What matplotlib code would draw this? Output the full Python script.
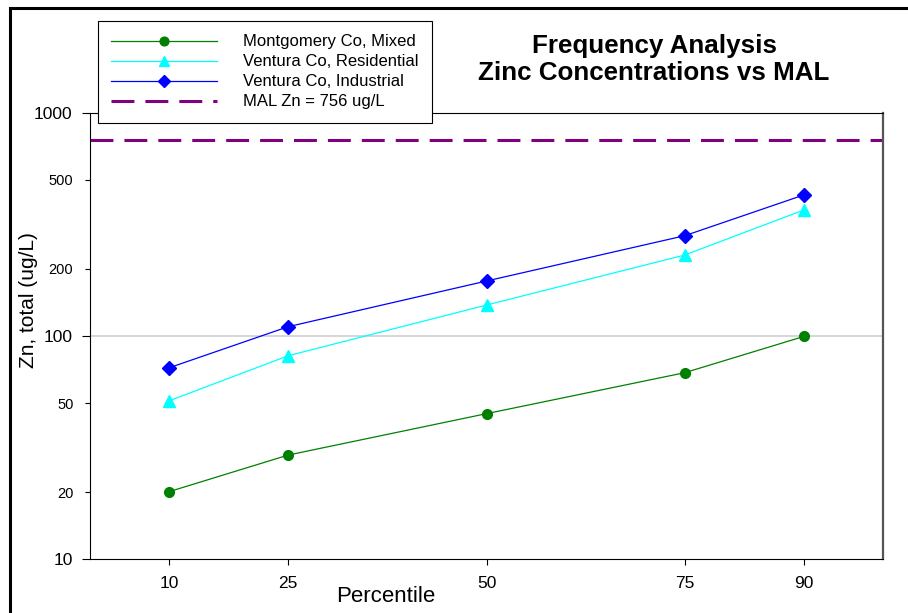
import matplotlib
matplotlib.use('Agg')
from matplotlib import pyplot as plt
from matplotlib.lines import Line2D
from matplotlib.patches import Rectangle
from matplotlib.ticker import FixedLocator

plt.rcParams['font.family'] = ['Liberation Sans', 'DejaVu Sans']

# data
percentiles = [10, 25, 50, 75, 90]
montgomery_mixed = [20.1, 29.3, 44.9, 68.5, 99.5]
ventura_residential = [51.3, 81.6, 137.6, 230.5, 366.6]
ventura_industrial = [72.1, 110.1, 176.3, 281.3, 428.0]
mal_zn = 756

series_labels = ['Montgomery Co, Mixed', 'Ventura Co, Residential', 'Ventura Co, Industrial']
mal_label = 'MAL Zn = 756 ug/L'

W, H = 908, 613
fig = plt.figure(figsize=(W / 100, H / 100), dpi=100)
ax = fig.add_axes([90 / W, 1 - 559.3 / H, (883 - 90) / W, (559.3 - 112.7) / H])

# outer frame round the whole graphic
fig.patches.append(Rectangle((10 / W, -0.1), 1.2, 1.1 - 8.5 / H, transform=fig.transFigure,
                             fill=False, edgecolor='black', linewidth=2.2, zorder=0))

ax.axhline(100, color='#cccccc', linewidth=1.1, zorder=1)

h1, = ax.plot(percentiles, montgomery_mixed, color='#008000', lw=0.9, marker='o', ms=7, zorder=3)
h2, = ax.plot(percentiles, ventura_residential, color='#00ffff', lw=0.9, marker='^', ms=8.6, zorder=3)
h3, = ax.plot(percentiles, ventura_industrial, color='#0000ff', lw=0.9, marker='D', ms=6.8, zorder=3)
ax.axhline(mal_zn, color='#800080', lw=2.2, dashes=(7.5, 3.6), zorder=2)

ax.set_yscale('log')
ax.set_xlim(0, 100)
ax.set_ylim(10, 1000)

ax.set_xticks(percentiles)
ax.set_xticklabels([str(p) for p in percentiles], fontsize=12.5)
ax.tick_params(axis='x', direction='out', length=4, width=0.8, pad=8)

ax.yaxis.set_major_locator(FixedLocator([10, 100, 1000]))
ax.yaxis.set_minor_locator(FixedLocator([20, 50, 200, 500]))
ax.set_yticklabels(['10', '100', '1000'], fontsize=12.5)
ax.set_yticklabels(['20', '50', '200', '500'], minor=True, fontsize=10.5)
ax.tick_params(axis='y', which='major', direction='out', length=6, width=0.8, pad=6.5)
ax.tick_params(axis='y', which='minor', direction='out', length=3.6, width=0.8, pad=8.4)

for side in ['left', 'bottom', 'top']:
    ax.spines[side].set_linewidth(0.8)
    ax.spines[side].set_color('black')
ax.spines['right'].set_linewidth(1.6)
ax.spines['right'].set_color('#555555')

ax.set_xlabel('Percentile', fontsize=16)
ax.xaxis.set_label_coords((385.7 - 90) / 793, (559.3 - 602.3) / 446.6)
ax.xaxis.label.set_va('baseline')
ax.set_ylabel('Zn, total (ug/L)', fontsize=15)
ax.yaxis.set_label_coords((28 - 90) / 793, (559.3 - 300) / 446.6)
ax.yaxis.label.set_va('center')

fig.text(654 / W, 1 - 53.3 / H, 'Frequency Analysis', fontsize=18.7, fontweight='bold',
         ha='center', va='baseline')
fig.text(654 / W, 1 - 80 / H, 'Zinc Concentrations vs MAL', fontsize=18.7, fontweight='bold',
         ha='center', va='baseline')

mal_handle = Line2D([], [], color='#800080', lw=2.2, dashes=(7.5, 3.6))
leg = ax.legend([h1, h2, h3, mal_handle], series_labels + [mal_label],
                loc='upper left', bbox_to_anchor=(98 / W, 1 - 21 / H), bbox_transform=fig.transFigure,
                borderaxespad=0, fontsize=12, numpoints=1, handlelength=6.35, handletextpad=1.55,
                borderpad=0.8, labelspacing=0.3, fancybox=False, framealpha=1, edgecolor='black',
                markerscale=0.9)
leg.get_frame().set_linewidth(0.8)
leg.set_zorder(5)

plt.savefig('out.png', dpi=100)
plt.close()
